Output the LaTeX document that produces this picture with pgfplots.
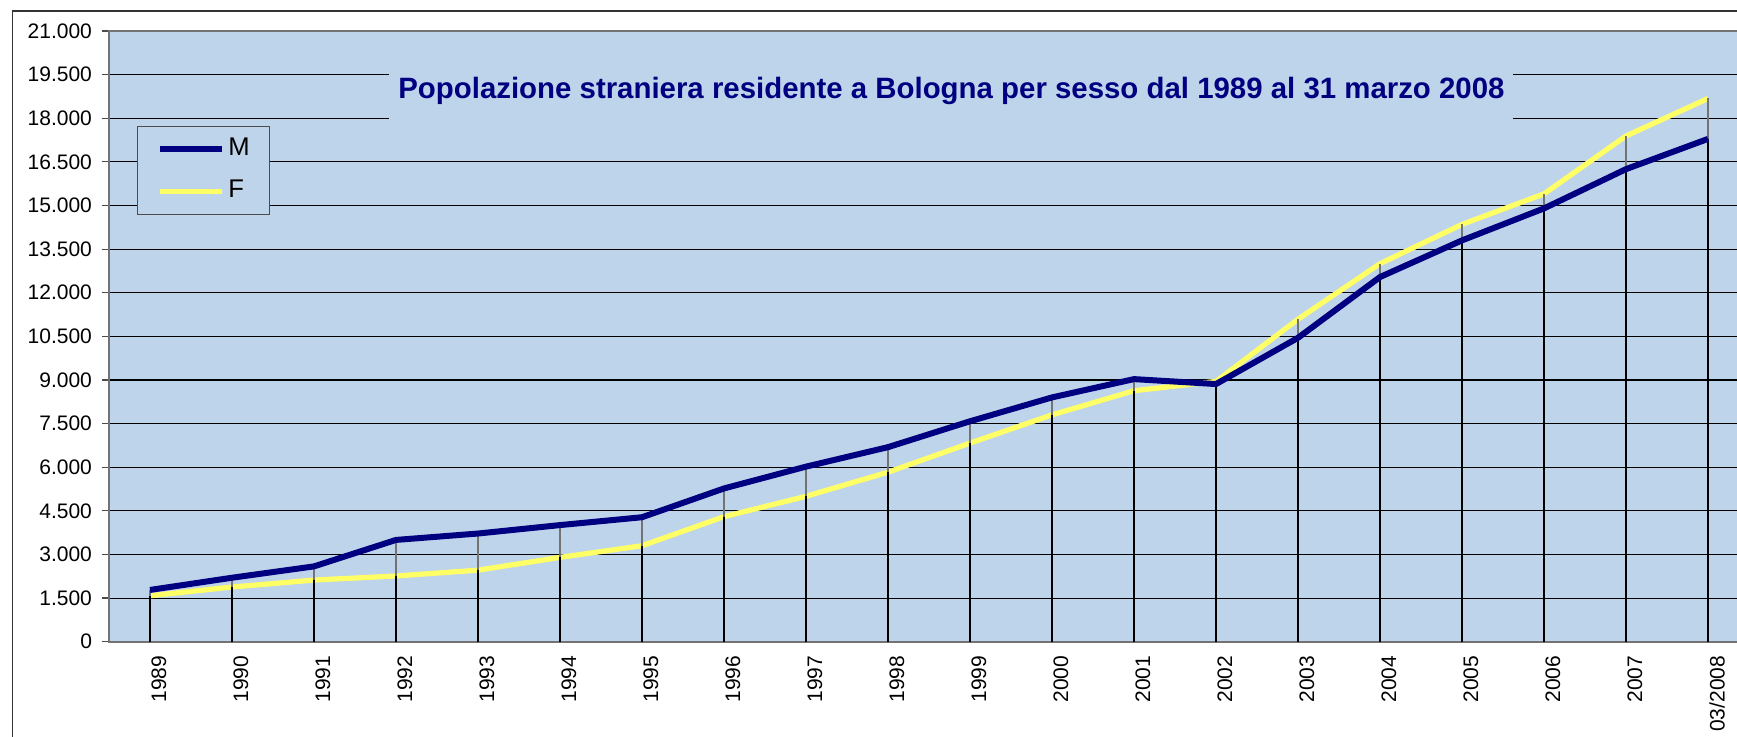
\documentclass[border=0pt]{standalone}
\usepackage{pgfplots}
\pgfplotsset{compat=1.18}
\usepackage{fontspec}
\setmainfont{Liberation Sans}

\definecolor{plotbg}{RGB}{190,212,234}
\definecolor{navyM}{RGB}{0,0,128}
\definecolor{yelF}{RGB}{255,255,102}

% one table: category index, M, F, upper and lower end of the drop lines
\pgfplotstableread{
idx  M      F      hi     lo
0    1780   1580   1780   1580
1    2200   1880   2200   1880
2    2590   2120   2590   2120
3    3500   2260   3500   2260
4    3720   2460   3720   2460
5    4010   2900   4010   2900
6    4280   3300   4280   3300
7    5270   4300   5270   4300
8    6020   5000   6020   5000
9    6690   5830   6690   5830
10   7580   6830   7580   6830
11   8400   7800   8400   7800
12   9030   8630   9030   8630
13   8860   8950   8950   8860
14   10450  11090  11090  10450
15   12540  13000  13000  12540
16   13800  14350  14350  13800
17   14900  15400  15400  14900
18   16250  17390  17390  16250
19   17290  18680  18680  17290
}\popdata

\begin{document}
\begin{tikzpicture}
% visible part of the Excel chart (right and bottom are cut off)
\useasboundingbox (-54.5pt,-47.15pt) rectangle (814pt,320.85pt);
\clip (-54.5pt,-47.15pt) rectangle (814pt,320.85pt);
\draw[black!80, line width=0.7pt] (-48.15pt,-60pt) |- (900pt,315.35pt);

\begin{axis}[
    scale only axis,
    width=820pt, height=305.35pt,
    xmin=-0.5, xmax=19.5,
    ymin=0, ymax=21000,
    axis background/.style={fill=plotbg},
    axis line style={draw=black!55, line width=0.8pt},
    /pgf/number format/assume math mode=true,
    ytick={0,1500,...,21000},
    scaled y ticks=false,
    yticklabel style={/pgf/number format/fixed, /pgf/number format/1000 sep={.},
        font=\fontsize{10.5}{12}\selectfont, xshift=-1.5pt},
    ytick pos=left, tick align=outside,
    major tick length=3.5pt,
    ytick style={black!70, line width=0.6pt},
    ymajorgrids,
    major grid style={black, line width=0.55pt},
    xtick={0,...,19},
    xticklabels={1989,1990,1991,1992,1993,1994,1995,1996,1997,1998,1999,2000,2001,2002,2003,2004,2005,2006,2007,03/2008},
    xtick style={draw=none},
    xticklabel style={rotate=90, anchor=east, font=\fontsize{10.5}{12}\selectfont, yshift=-4.5pt},
    clip=false,
    reverse legend,
    legend cell align=left,
    legend image code/.code={\draw[#1] (0pt,0pt) -- (31pt,0pt);},
    legend style={
        at={(0.0169,0.845)}, anchor=north west,
        fill=plotbg, draw=black!70, line width=0.6pt,
        font=\fontsize{12.8}{14}\selectfont,
        inner xsep=10pt, inner ysep=5.5pt,
        row sep=9pt,
        nodes={inner sep=0pt, text height=9.2pt, text depth=2.8pt},
        /tikz/every odd column/.append style={column sep=1.5pt},
    },
]

\addplot[yelF, line width=2.6pt, line join=round] table[x=idx, y=F] {\popdata};
\addlegendentry{F}

% drop lines: grey between the two series, black below the lower one
\addplot[ycomb, black!55, line width=0.6pt, forget plot] table[x=idx, y=hi] {\popdata};
\addplot[ycomb, black, line width=0.6pt, forget plot] table[x=idx, y=lo] {\popdata};

\addplot[navyM, line width=3pt, line join=round] table[x=idx, y=M] {\popdata};
\addlegendentry{M}

\node[fill=plotbg, anchor=base, minimum width=562pt, inner xsep=3.5pt, inner ysep=9.1pt,
      text height=10.4pt, text depth=3.9pt, text=navyM,
      font=\fontsize{14.7}{17}\selectfont\bfseries]
    at (axis cs:9.774,18662) {Popolazione straniera residente a Bologna per sesso dal 1989 al 31 marzo 2008};
\end{axis}
\end{tikzpicture}
\end{document}
